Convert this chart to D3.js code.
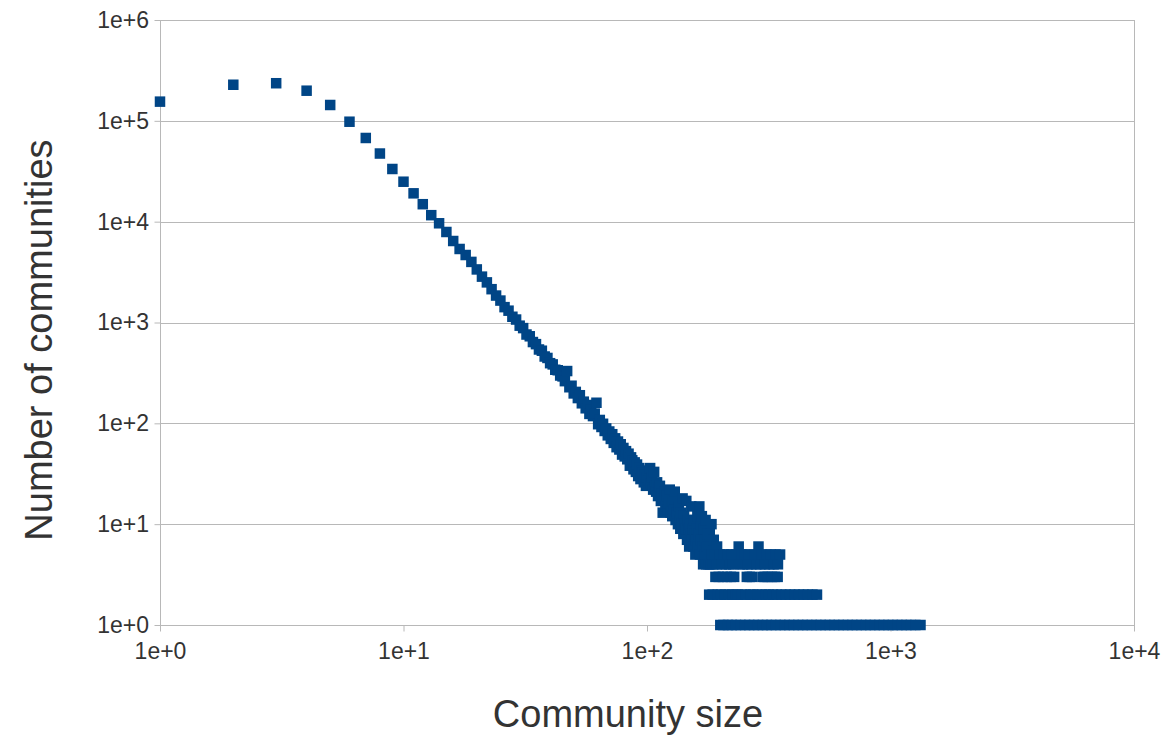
<!DOCTYPE html>
<html>
<head>
<meta charset="utf-8">
<script src="https://cdn.jsdelivr.net/npm/d3@7"></script>
<style>
  html, body { margin: 0; padding: 0; background: #ffffff; }
  svg { display: block; }
  text { font-family: "Liberation Sans", Arial, sans-serif; fill: #333333; }
</style>
</head>
<body>
<svg id="chart" width="1166" height="735"></svg>
<script>
// Community-size distribution: number of communities for each community size.

// Sizes 1..179 in order; headCounts[i] is the count for size i + 1.
const headCounts = [
  155000, 228000, 236000, 199000, 143600, 98000, 67600, 47400, 33300, 24900,
  19100, 14900, 11600, 9640, 7900, 6430, 5360, 4670, 3990, 3360,
  2850, 2500, 2140, 1850, 1650, 1420, 1310, 1140, 1070, 930,
  880, 760, 730, 640, 610, 540, 525, 460, 445, 395,
  384, 340, 336, 298, 292, 262, 330, 228, 236, 198,
  205, 178, 190, 158, 164, 141, 152, 124, 137, 118,
  125, 160, 98, 108, 92, 99, 84, 89, 76, 83,
  70, 78, 64, 71, 58, 66, 55, 62, 49, 57,
  47, 53, 44, 50, 38, 46, 43, 35, 41, 33,
  39, 30, 36, 28, 34, 32, 26, 31, 24, 29,
  31, 27, 36, 25, 29, 22, 33, 24, 21, 26,
  19, 23, 24, 17, 20, 13, 18, 21, 15, 17,
  19, 14, 16, 22, 13, 15, 12, 17, 14, 21,
  11, 13, 12, 10, 15, 11, 9, 13, 10, 18,
  8, 12, 10, 9, 17, 7, 11, 9, 6, 10,
  8, 15, 7, 9, 6, 11, 8, 5, 7, 9,
  12, 6, 8, 15, 5, 7, 10, 12, 6, 4,
  9, 7, 5, 11, 4, 6, 8, 5, 4
];

// Larger sizes, grouped by how many communities have that size.
const sizesWithCount10 = [184];
const sizesWithCount8 = [181];
const sizesWithCount7 = [188];
const sizesWithCount6 = [194, 238, 287];
const sizesWithCount5 = [185, 190, 199, 207, 214, 222, 233, 244, 251, 262, 276, 295, 309, 322, 337, 352];
const sizesWithCount4 = [182, 187, 193, 203, 211, 218, 226, 241, 248, 259, 268, 281, 292, 305, 318, 331, 345];
const sizesWithCount3 = [191, 197, 205, 213, 221, 228, 257, 264, 270, 298, 304, 313, 326, 335, 344];
const sizesWithCount2 = [180, 186, 195, 201, 209, 216, 224, 231, 236, 246, 254, 266, 273, 284, 296, 307,
  316, 329, 341, 356, 371, 387, 404, 421, 439, 458, 478, 499];
const sizesWithCount1 = [200, 206, 215, 223, 232, 242, 253, 263, 275, 286, 299, 311, 324, 338, 353, 368,
  384, 401, 418, 436, 455, 475, 496, 517, 540, 563, 588, 613, 640, 668, 697, 727, 759, 792, 826, 862,
  900, 939, 980, 1022, 1067, 1113, 1162, 1212, 1265, 1328];

const xTicks = [1, 10, 100, 1000, 10000];
const yTicks = [1, 10, 100, 1000, 10000, 100000, 1000000];
const xTitle = "Community size";
const yTitle = "Number of communities";

// Assemble (size, count) points.
const points = headCounts.map((c, i) => ({ size: i + 1, count: c }));
[
  [10, sizesWithCount10], [8, sizesWithCount8], [7, sizesWithCount7], [6, sizesWithCount6],
  [5, sizesWithCount5], [4, sizesWithCount4], [3, sizesWithCount3], [2, sizesWithCount2],
  [1, sizesWithCount1]
].forEach(([c, sizes]) => sizes.forEach(s => points.push({ size: s, count: c })));

const svg = d3.select("#chart");
const plotLeft = 160, plotRight = 1134, plotTop = 20, plotBottom = 625;

const x = d3.scaleLog().domain([1, 10000]).range([plotLeft, plotRight]);
const y = d3.scaleLog().domain([1, 1000000]).range([plotBottom, plotTop]);
const expFormat = d => "1e+" + Math.round(Math.log10(d));
const gridColor = "#b8b8b8";

// Horizontal gridlines
svg.append("g")
  .selectAll("line")
  .data(yTicks)
  .join("line")
  .attr("x1", plotLeft).attr("x2", plotRight)
  .attr("y1", d => Math.round(y(d)) + 0.5).attr("y2", d => Math.round(y(d)) + 0.5)
  .attr("stroke", gridColor).attr("stroke-width", 1);

// Right edge line
svg.append("line")
  .attr("x1", plotRight + 0.5).attr("x2", plotRight + 0.5)
  .attr("y1", plotTop).attr("y2", plotBottom + 6)
  .attr("stroke", gridColor);

// Y axis
const yAxis = svg.append("g")
  .attr("transform", `translate(${plotLeft + 0.5},0)`)
  .call(d3.axisLeft(y).tickValues(yTicks).tickFormat(expFormat).tickSizeInner(6).tickSizeOuter(0).tickPadding(5.5));
yAxis.select(".domain").attr("stroke", gridColor).attr("d", `M0,${plotTop}V${plotBottom + 6}`);
yAxis.selectAll(".tick line").attr("stroke", gridColor);
yAxis.selectAll(".tick text").attr("font-size", 23).attr("fill", "#333333")
  .style("font-family", "'Liberation Sans', Arial, sans-serif");

// X axis
const xAxis = svg.append("g")
  .attr("transform", `translate(0,${plotBottom + 0.5})`)
  .call(d3.axisBottom(x).tickValues(xTicks).tickFormat(expFormat).tickSizeInner(6).tickSizeOuter(0).tickPadding(11.5));
xAxis.select(".domain").remove();
xAxis.selectAll(".tick line").attr("stroke", gridColor);
xAxis.selectAll(".tick text").attr("font-size", 23).attr("fill", "#333333")
  .style("font-family", "'Liberation Sans', Arial, sans-serif");

// Square markers
const m = 10.5;
svg.append("g")
  .selectAll("rect")
  .data(points)
  .join("rect")
  .attr("x", d => x(d.size) - m / 2)
  .attr("y", d => y(d.count) - m / 2)
  .attr("width", m).attr("height", m)
  .attr("fill", "#004586");

// Axis titles
svg.append("text")
  .attr("x", 628).attr("y", 727)
  .attr("text-anchor", "middle")
  .attr("font-size", 38)
  .text(xTitle);

svg.append("text")
  .attr("transform", "translate(52,340) rotate(-90)")
  .attr("text-anchor", "middle")
  .attr("font-size", 38)
  .text(yTitle);
</script>
</body>
</html>
